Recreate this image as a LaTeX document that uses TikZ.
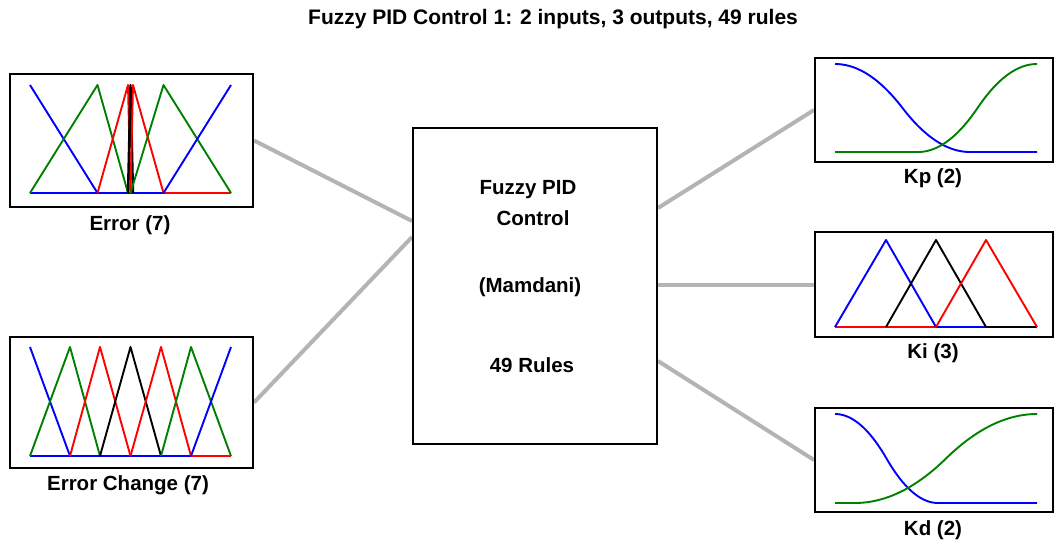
\documentclass[tikz,border=0pt]{standalone}
\usepackage{fontspec}
\setmainfont{Liberation Sans}
\usetikzlibrary{calc,backgrounds}
\definecolor{mfblue}{RGB}{0,0,255}
\definecolor{mfgreen}{RGB}{0,128,0}
\definecolor{mfred}{RGB}{255,0,0}
\definecolor{conngray}{RGB}{180,180,180}
\begin{document}
\begin{tikzpicture}[x=1pt,y=-1pt,
 box/.style={draw=black,line width=2pt,inner sep=0pt,anchor=north west},
 conn/.style={draw=conngray,line width=4pt},
 lbl/.style={font=\bfseries\fontsize{20.5}{22}\selectfont,inner sep=0pt},
 mf/.style={line width=1.9pt,line join=round},
 declare function={smf(\t)=(\t<0.5)*2*\t*\t+(\t>=0.5)*(1-2*(1-\t)*(1-\t));}
]
\useasboundingbox (0,0) rectangle (1054,543);

% boxes
\node[box,minimum width=243pt,minimum height=133pt] (err) at (9,73) {};
\node[box,minimum width=243pt,minimum height=131pt] (ec) at (9,336) {};
\node[box,minimum width=244pt,minimum height=316pt] (fis) at (412,127) {};
\node[box,minimum width=238pt,minimum height=104pt] (kp) at (814,57) {};
\node[box,minimum width=238pt,minimum height=105pt] (ki) at (814,231) {};
\node[box,minimum width=238pt,minimum height=104pt] (kd) at (814,407) {};

% connectors
\begin{scope}[on background layer]
\draw[conn] (err.east) -- ([yshift=65pt]fis.west);
\draw[conn] (ec.east) -- ([yshift=49pt]fis.west);
\draw[conn] ([yshift=78pt]fis.east) -- (kp.west);
\draw[conn] (fis.east |- ki.west) -- (ki.west);
\draw[conn] ([yshift=-75pt]fis.east) -- (kd.west);
\end{scope}

% texts
\node[lbl,font=\bfseries\fontsize{21}{23}\selectfont] (title) at (553,19) {Fuzzy PID Control 1: 2 inputs, 3 outputs, 49 rules};
\node[lbl] (errl) at (130,225) {Error (7)};
\node[lbl] (ecl) at (128,485) {Error Change (7)};
\node[lbl] (kpl) at (933,178) {Kp (2)};
\node[lbl] (kil) at (933,353) {Ki (3)};
\node[lbl] (kdl) at (933,530) {Kd (2)};
\node[lbl] (f1) at (528,190) {Fuzzy PID};
\node[lbl] (f2) at (533,218) {Control};
\node[lbl] (f3) at (530,287) {(Mamdani)};
\node[lbl] (f4) at (532,365) {49 Rules};

% Error MFs
\draw[mf,mfblue] (30,193) -- (163.5,193);
\draw[mf,mfred] (163.5,193) -- (231,193);
\draw[mf,mfblue] (30,85) -- (97.5,193);
\draw[mf,mfgreen] (30,193) -- (97.5,85) -- (128,193);
\draw[mf,mfred] (97.5,193) -- (128,85) -- (130.5,193);
\draw[mf,black,line width=2.4pt] (128,193) -- (130.5,85) -- (133,193);
\draw[mf,mfred] (130.5,193) -- (133,85) -- (163.5,193);
\draw[mf,mfgreen] (130.5,193) -- (163.5,85) -- (231,193);
\draw[mf,mfblue] (163.5,193) -- (231,85);

% Error Change MFs
\draw[mf,mfblue] (30,456) -- (191,456);
\draw[mf,mfred] (191,456) -- (231,456);
\draw[mf,mfblue] (30,347) -- (70,456);
\draw[mf,mfgreen] (30,456) -- (70,347) -- (100,456);
\draw[mf,mfred] (70,456) -- (100,347) -- (130.5,456);
\draw[mf,black] (100,456) -- (130.5,347) -- (161,456);
\draw[mf,mfred] (130.5,456) -- (161,347) -- (191,456);
\draw[mf,mfgreen] (161,456) -- (191,347) -- (231,456);
\draw[mf,mfblue] (191,456) -- (231,347);

% Kp MFs
\draw[mf,mfblue] (835,64) -- plot[domain=835:970,samples=50] (\x,{64+88*smf((\x-835)/135)}) -- (1037,152);
\draw[mf,mfgreen] (835,152) -- (918,152) -- plot[domain=918:1037,samples=50] (\x,{152-88*smf((\x-918)/119)});

% Ki MFs
\draw[mf,mfred] (835,327) -- (936,327);
\draw[mf,mfblue] (936,327) -- (986,327);
\draw[mf,black] (986,327) -- (1037,327);
\draw[mf,mfblue] (835,327) -- (886,240) -- (936,327);
\draw[mf,black] (886,327) -- (936,240) -- (986,327);
\draw[mf,mfred] (936,327) -- (986,240) -- (1037,327);

% Kd MFs
\draw[mf,mfblue] (835,414) -- plot[domain=835:938,samples=50] (\x,{414+89*smf((\x-835)/103)}) -- (1037,503);
\draw[mf,mfgreen] (835,503) -- (855,503) -- plot[domain=855:1037,samples=50] (\x,{503-89*smf((\x-855)/182)});
\end{tikzpicture}
\end{document}
